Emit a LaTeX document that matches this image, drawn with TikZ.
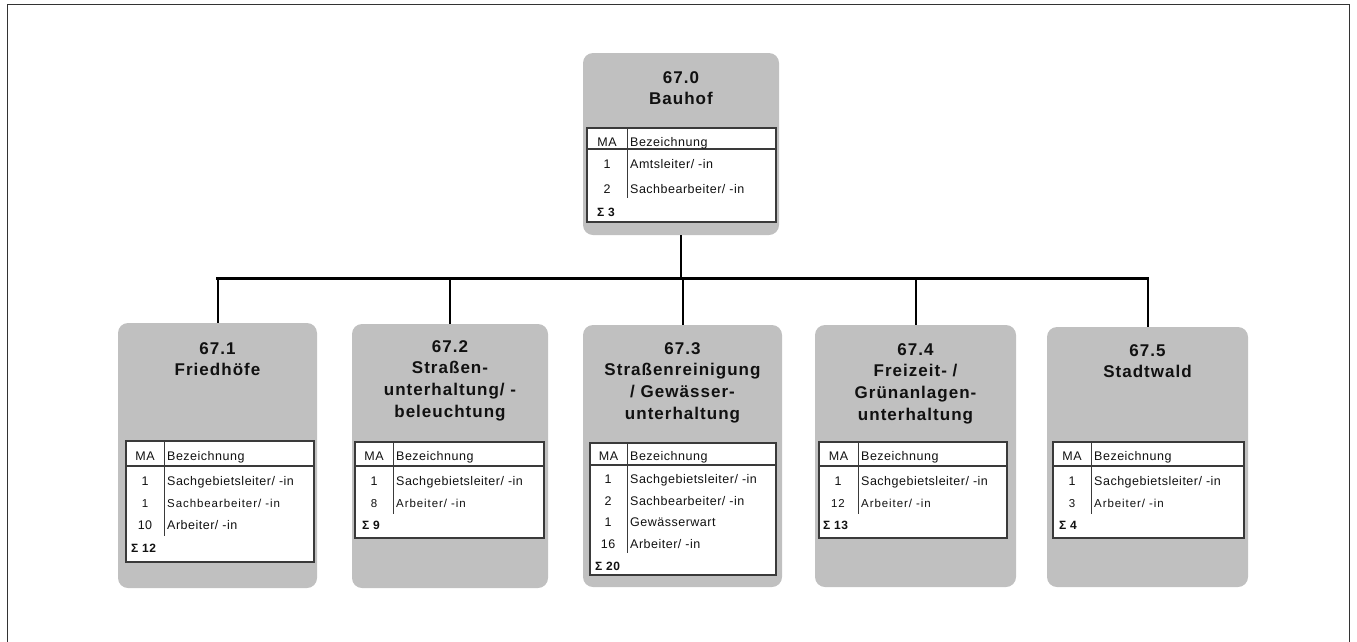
\documentclass[tikz,border=0pt]{standalone}
\usepackage{fontspec}
\setmainfont{Liberation Sans}
\newfontfamily\titlef[LetterSpace=6]{Liberation Sans}
\newfontfamily\cellf[LetterSpace=4]{Liberation Sans}
\newfontfamily\smallf[LetterSpace=8]{Liberation Sans}
\definecolor{boxgray}{HTML}{C0C0C0}
\definecolor{tline}{HTML}{3A3A3A}
\definecolor{txt}{HTML}{111111}
\tikzset{
  unitbox/.style={fill=boxgray, draw=none, rounded corners=10pt, inner sep=0pt, outer sep=0pt, anchor=north west},
  title/.style={font=\titlef\bfseries\fontsize{17}{21.7}\selectfont, text=txt, align=center, inner sep=0pt, anchor=north},
  tablebox/.style={fill=white, draw=tline, line width=1.2pt, inner sep=0pt, outer sep=0pt, anchor=north west},
  cell/.style={font=\cellf\fontsize{12.5}{14}\selectfont, text=txt, inner sep=0pt},
  smallcell/.style={font=\smallf\fontsize{11.5}{13}\selectfont, text=txt, inner sep=0pt},
  sumcell/.style={font=\cellf\bfseries\fontsize{12}{14}\selectfont, text=txt, inner sep=0pt, anchor=base west},
  hline/.style={draw=tline, line width=1.5pt},
  vline/.style={draw=tline, line width=1pt},
  drop/.style={draw=black, line width=2pt},
  busline/.style={draw=black, line width=3pt, line cap=rect},
  frame/.style={draw=black!80, line width=1.5pt}
}
% #1 prefix, #2 L, #3 T, #4 R, #5 B, #6 S (sep x), #7 H (header line y), #8 E (sep end y), #9 header baseline
\newcommand{\orgtab}[9]{%
  \node[tablebox, minimum width=#4-#2, minimum height=#5-#3] (#1) at (#2,#3) {};
  \draw[hline] (#1.west |- 0,#7) -- (#1.east |- 0,#7);
  \draw[vline] (#6,#3) -- (#6,#8);
  \node[cell, anchor=base] (#1ma) at ({(#2+#6)/2},#9) {MA};
  \node[cell, anchor=base west] (#1bz) at (#6+3,#9) {Bezeichnung};
}
% #1 name, #2 MA centre x, #3 text x, #4 baseline, #5 number, #6 text, #7 style
\newcommand{\orgrow}[7]{%
  \node[#7, anchor=base] (#1n) at (#2,#4) {#5};
  \node[#7, anchor=base west] (#1t) at (#3,#4) {#6};
}
\begin{document}
\begin{tikzpicture}[x=1pt,y=-1pt]
\useasboundingbox (0,0) rectangle (1357,641);
\draw[frame] (7.5,645) -- (7.5,4.5) -- (1349.5,4.5) -- (1349.5,645);

% unit boxes
\node[unitbox, minimum width=196, minimum height=182] (b0) at (583,53) {};
\node[unitbox, minimum width=199, minimum height=265] (b1) at (118,323) {};
\node[unitbox, minimum width=196, minimum height=264] (b2) at (352,324) {};
\node[unitbox, minimum width=199, minimum height=262] (b3) at (583,325) {};
\node[unitbox, minimum width=201, minimum height=262] (b4) at (815,325) {};
\node[unitbox, minimum width=201, minimum height=260] (b5) at (1047,327) {};

% connectors
\coordinate (bus) at (681,278);
\draw[drop] (b0.south) -- (b0.south |- bus);
\draw[busline] (b1.north |- bus) -- (b5.north |- bus);
\foreach \b in {b1,b2,b3,b4,b5} \draw[drop] (\b.north |- bus) -- (\b.north);

% titles
\node[title] (t0) at (b0.north |- 0,71) {67.0\\Bauhof};
\node[title] (t1) at (b1.north |- 0,342) {67.1\\Friedhöfe};
\node[title] (t2) at (b2.north |- 0,340) {67.2\\Straßen-\\unterhaltung/ -\\beleuchtung};
\node[title] (t3) at (b3.north |- 0,342) {67.3\\Straßenreinigung\\/ Gewässer-\\unterhaltung};
\node[title] (t4) at (b4.north |- 0,343) {67.4\\Freizeit- /\\Grünanlagen-\\unterhaltung};
\node[title] (t5) at (b5.north |- 0,344) {67.5\\Stadtwald};

% table 67.0
\orgtab{k0}{587}{128}{776}{222}{627}{149}{198}{146}
\orgrow{k0a}{607}{630}{168}{1}{Amtsleiter/ -in}{cell}
\orgrow{k0b}{607}{630}{193}{2}{Sachbearbeiter/ -in}{cell}
\node[sumcell] (k0s) at (597,216) {Σ 3};

% table 67.1
\orgtab{k1}{126}{441}{314}{562}{164}{466}{536}{460}
\orgrow{k1a}{145}{167}{485}{1}{Sachgebietsleiter/ -in}{cell}
\orgrow{k1b}{145}{167}{507}{1}{Sachbearbeiter/ -in}{smallcell}
\orgrow{k1c}{145}{167}{529}{10}{Arbeiter/ -in}{cell}
\node[sumcell] (k1s) at (131,552) {Σ 12};

% table 67.2
\orgtab{k2}{355}{442}{544}{538}{393}{466}{514}{460}
\orgrow{k2a}{374}{396}{485}{1}{Sachgebietsleiter/ -in}{cell}
\orgrow{k2b}{374}{396}{507}{8}{Arbeiter/ -in}{smallcell}
\node[sumcell] (k2s) at (362,529) {Σ 9};

% table 67.3
\orgtab{k3}{590}{443}{776}{575}{627}{465}{553}{460}
\orgrow{k3a}{608}{630}{483}{1}{Sachgebietsleiter/ -in}{cell}
\orgrow{k3b}{608}{630}{505}{2}{Sachbearbeiter/ -in}{cell}
\orgrow{k3c}{608}{630}{526}{1}{Gewässerwart}{cell}
\orgrow{k3d}{608}{630}{548}{16}{Arbeiter/ -in}{cell}
\node[sumcell] (k3s) at (595,570) {Σ 20};

% table 67.4
\orgtab{k4}{819}{442}{1007}{538}{858}{466}{514}{460}
\orgrow{k4a}{838}{861}{485}{1}{Sachgebietsleiter/ -in}{cell}
\orgrow{k4b}{838}{861}{507}{12}{Arbeiter/ -in}{smallcell}
\node[sumcell] (k4s) at (823,529) {Σ 13};

% table 67.5
\orgtab{k5}{1053}{442}{1244}{538}{1091}{466}{514}{460}
\orgrow{k5a}{1072}{1094}{485}{1}{Sachgebietsleiter/ -in}{cell}
\orgrow{k5b}{1072}{1094}{507}{3}{Arbeiter/ -in}{smallcell}
\node[sumcell] (k5s) at (1059,529) {Σ 4};
\end{tikzpicture}
\end{document}
